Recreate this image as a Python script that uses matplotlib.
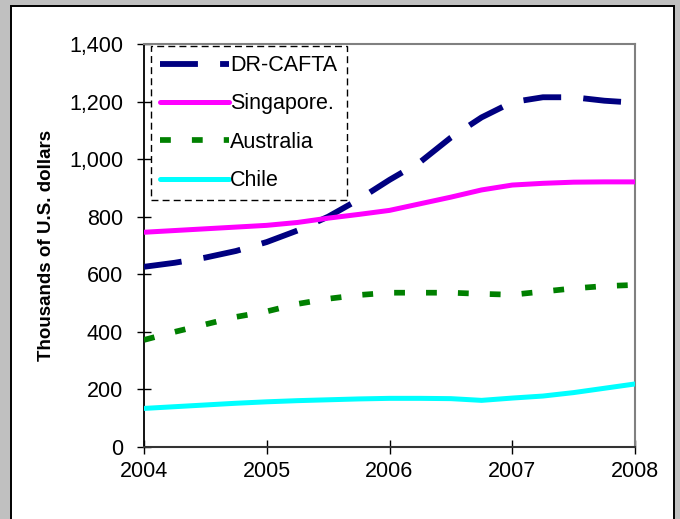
import matplotlib
matplotlib.use("Agg")
import matplotlib.pyplot as plt
from matplotlib.patches import Rectangle
from matplotlib.ticker import FuncFormatter

plt.rcParams['font.family'] = ['Liberation Sans', 'DejaVu Sans']

# Data (thousands of U.S. dollars), quarterly readings
years = [2004, 2004.25, 2004.5, 2004.75, 2005, 2005.25, 2005.5, 2005.75, 2006,
         2006.25, 2006.5, 2006.75, 2007, 2007.25, 2007.5, 2007.75, 2008]
dr_cafta = [626, 640, 658, 681, 712, 752, 800, 860, 928,
            990, 1075, 1145, 1198, 1215, 1215, 1203, 1196]
singapore = [746, 752, 758, 764, 770, 780, 795, 808, 822,
             845, 868, 893, 910, 916, 920, 921, 921]
australia = [372, 400, 426, 452, 471, 497, 515, 528, 536,
             536, 536, 532, 529, 540, 551, 559, 563]
chile = [134, 140, 146, 152, 157, 161, 164, 167, 169,
         169, 168, 162, 170, 177, 189, 204, 219]

x_ticks = [2004, 2005, 2006, 2007, 2008]
y_ticks = [0, 200, 400, 600, 800, 1000, 1200, 1400]
labels = ['DR-CAFTA', 'Singapore.', 'Australia', 'Chile']

W, H = 680, 519
fig = plt.figure(figsize=(W / 100, H / 100), dpi=100, facecolor='#c0c0c0')

# white panel
bg = fig.add_axes([0, 0, 1, 1], zorder=-10)
bg.set_xlim(0, W)
bg.set_ylim(H, 0)
bg.axis('off')
bg.add_patch(Rectangle((10.8, 5.8), 673.8 - 10.8, H + 20, facecolor='white',
                       edgecolor='black', linewidth=1.4))

ax = fig.add_axes([144 / W, 1 - 447 / H, (635 - 144) / W, (447 - 44) / H])
ax.set_facecolor('white')

ax.plot(years, dr_cafta, color='#000080', lw=4.2, dashes=(6.5, 3.8),
        dash_capstyle='butt', label=labels[0], zorder=3)
ax.plot(years, singapore, color='#ff00ff', lw=3.6, solid_capstyle='round',
        label=labels[1], zorder=3)
ax.plot(years, australia, color='#008000', lw=4.1, dashes=(1.9, 3.7),
        dash_capstyle='butt', label=labels[2], zorder=3)
ax.plot(years, chile, color='#00ffff', lw=3.6, solid_capstyle='round',
        label=labels[3], zorder=3)

ax.set_xlim(2004, 2008)
ax.set_ylim(0, 1400)
ax.set_xticks(x_ticks)
ax.set_xticklabels([str(y) for y in x_ticks])
ax.set_yticks(y_ticks)
ax.yaxis.set_major_formatter(FuncFormatter(lambda v, p: f'{int(v):,}'))
ax.tick_params(axis='both', direction='inout', length=10, width=1, color='black',
               labelsize=15.5, labelcolor='black')
ax.tick_params(axis='y', pad=10)
ax.tick_params(axis='x', pad=5)

for side in ['top', 'right']:
    ax.spines[side].set_color('#808080')
    ax.spines[side].set_linewidth(1.5)
ax.spines['left'].set_color('black')
ax.spines['left'].set_linewidth(1.3)
ax.spines['bottom'].set_color('#333333')
ax.spines['bottom'].set_linewidth(1.5)

ax.set_ylabel('Thousands of U.S. dollars', fontsize=13.5, fontweight='bold')
ax.yaxis.set_label_coords((55 - 144) / 491, 0.5)

leg = ax.legend(loc='upper left', bbox_to_anchor=(6.7 / 491, 1 - 2 / 403),
                borderaxespad=0, fontsize=15.5, handlelength=3.2, handletextpad=0.08,
                labelspacing=0.81, borderpad=0.42, fancybox=False, framealpha=1,
                edgecolor='black')
frame = leg.get_frame()
frame.set_linestyle((0, (5, 3)))
frame.set_linewidth(1.0)
frame.set_facecolor('white')

fig.savefig('out.png', dpi=100, facecolor=fig.get_facecolor())
